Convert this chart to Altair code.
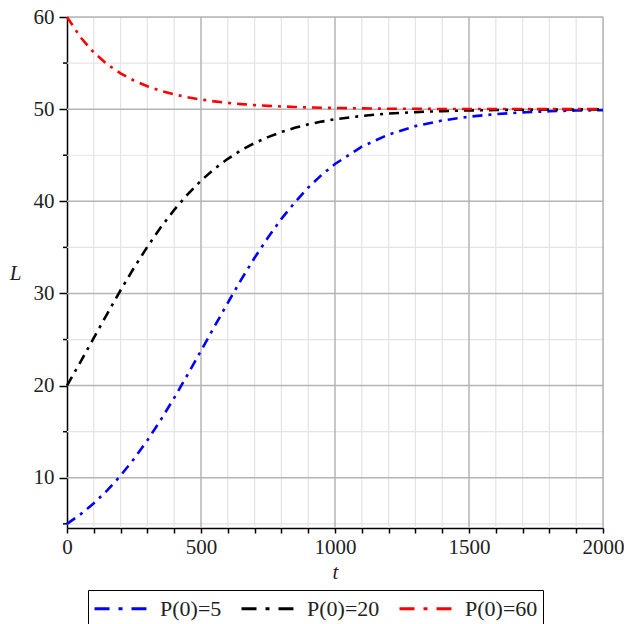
import altair as alt
import pandas as pd

t_vals = [0, 50, 100, 150, 200, 250, 300, 350, 400, 450, 500, 550, 600, 650, 700, 750,
          800, 850, 900, 950, 1000, 1100, 1200, 1300, 1400, 1500, 1600, 1700, 1800, 1900, 2000]
p5 = [5.0, 6.03, 7.23, 8.63, 10.24, 12.05, 14.07, 16.29, 18.67, 21.19, 23.78, 26.40, 28.99,
      31.51, 33.87, 36.07, 38.10, 39.87, 41.49, 42.86, 44.05, 45.93, 47.25, 48.16, 48.77,
      49.18, 49.46, 49.65, 49.77, 49.85, 49.90]
p20 = [20.0, 22.56, 25.18, 27.79, 30.35, 32.79, 35.07, 37.18, 39.07, 40.76, 42.24, 43.52,
       44.61, 45.55, 46.32, 46.97, 47.52, 47.97, 48.35, 48.65, 48.90, 49.27, 49.52, 49.68,
       49.79, 49.86, 49.91, 49.94, 49.96, 49.97, 49.98]
p60 = [60.0, 57.81, 56.15, 54.87, 53.88, 53.10, 52.48, 51.99, 51.60, 51.29, 51.04, 50.84,
       50.68, 50.55, 50.44, 50.36, 50.29, 50.24, 50.19, 50.15, 50.13, 50.08, 50.05, 50.04,
       50.02, 50.02, 50.01, 50.01, 50.00, 50.00, 50.00]
series_names = ["P(0)=5", "P(0)=20", "P(0)=60"]
series_colors = ["#0000ff", "#000000", "#ff0000"]

x_major = [500, 1000, 1500, 2000]
x_minor = [100, 200, 300, 400, 600, 700, 800, 900, 1100, 1200, 1300, 1400, 1600, 1700, 1800, 1900]
x_ticks = list(range(0, 2001, 100))
y_major = [10, 20, 30, 40, 50, 60]
y_minor = [5, 15, 25, 35, 45, 55]

rows = []
for name, vals in zip(series_names, [p5, p20, p60]):
    for t, v in zip(t_vals, vals):
        rows.append({"t": t, "L": v, "series": name, "order": series_names.index(name)})
df = pd.DataFrame(rows)

FONT = "Liberation Serif"
xscale = alt.Scale(domain=[0, 2000], nice=False, zero=False)
yscale = alt.Scale(domain=[4.55, 60], nice=False, zero=False)

xaxis = alt.Axis(values=x_ticks, labelExpr="datum.value % 500 == 0 ? datum.label : ''",
                 format="d", grid=False, tickSize=5, labelPadding=3, labelOverlap=False,
                 labelFlush=False,
                 domainColor="black", domainWidth=1.5, tickColor="black", tickWidth=1.5,
                 labelFont=FONT, labelFontSize=21, labelColor="#222",
                 title="t", titleFont=FONT, titleFontSize=21, titleFontStyle="italic",
                 titleFontWeight="normal", titleY=44, titleBaseline="middle", titleColor="#222")
yaxis = alt.Axis(values=y_major, format="d", grid=False, tickSize=8, labelPadding=5,
                 labelFlush=False,
                 domainColor="black", domainWidth=1.5, tickColor="black", tickWidth=1.5,
                 labelFont=FONT, labelFontSize=21, labelColor="#222",
                 title="L", titleFont=FONT, titleFontSize=21, titleFontStyle="italic",
                 titleFontWeight="normal", titleAngle=0, titleX=-52, titleY=256,
                 titleAlign="center", titleBaseline="middle", titleColor="#222")

def X(field):
    return alt.X(field, type="quantitative", scale=xscale, axis=xaxis, title="t")

def Y(field):
    return alt.Y(field, type="quantitative", scale=yscale, axis=yaxis, title="L")

xminor_grid = alt.Chart(pd.DataFrame({"xv": x_minor})).mark_rule(
    color="#e4e4e4", strokeWidth=1.2).encode(x=X("xv:Q"))
yminor_grid = alt.Chart(pd.DataFrame({"yv": y_minor})).mark_rule(
    color="#e4e4e4", strokeWidth=1.2).encode(y=Y("yv:Q"))
xmajor_grid = alt.Chart(pd.DataFrame({"xv": x_major})).mark_rule(
    color="#b4b4b4", strokeWidth=1.5).encode(x=X("xv:Q"))
ymajor_grid = alt.Chart(pd.DataFrame({"yv": y_major})).mark_rule(
    color="#b4b4b4", strokeWidth=1.5).encode(y=Y("yv:Q"))
yminor_ticks = alt.Chart(pd.DataFrame({"yv": y_minor})).mark_rule(
    color="black", strokeWidth=1.5).encode(y=Y("yv:Q"), x=alt.value(-4), x2=alt.value(0))

# long stroke symbol: centred at 12px (size 24) but drawn from 0 to 52px
legend_symbol = "M-1,0H3.33"

lines = alt.Chart(df).mark_line(strokeWidth=2.6, strokeDash=[10, 6, 3, 6]).encode(
    x=X("t:Q"),
    y=Y("L:Q"),
    color=alt.Color("series:N",
                    scale=alt.Scale(domain=series_names, range=series_colors),
                    legend=alt.Legend(title=None, orient="none", legendX=21, legendY=573,
                                      direction="horizontal", symbolType=legend_symbol,
                                      symbolSize=576, symbolStrokeWidth=3,
                                      symbolDash=[15, 9, 4, 9],
                                      labelFont=FONT, labelFontSize=22, labelColor="#222",
                                      labelOffset=40, columnPadding=13,
                                      strokeColor="black", padding=5)),
    detail="series:N",
    order="order:Q",
)

chart = alt.layer(xminor_grid, yminor_grid, xmajor_grid, ymajor_grid, yminor_ticks, lines).properties(
    width=536, height=511, autosize="none",
    padding={"left": 67, "top": 17, "right": 21, "bottom": 96},
).configure_view(stroke=None).configure(background="white")

chart.save("out.html", embed_options={"renderer": "svg", "actions": False})
